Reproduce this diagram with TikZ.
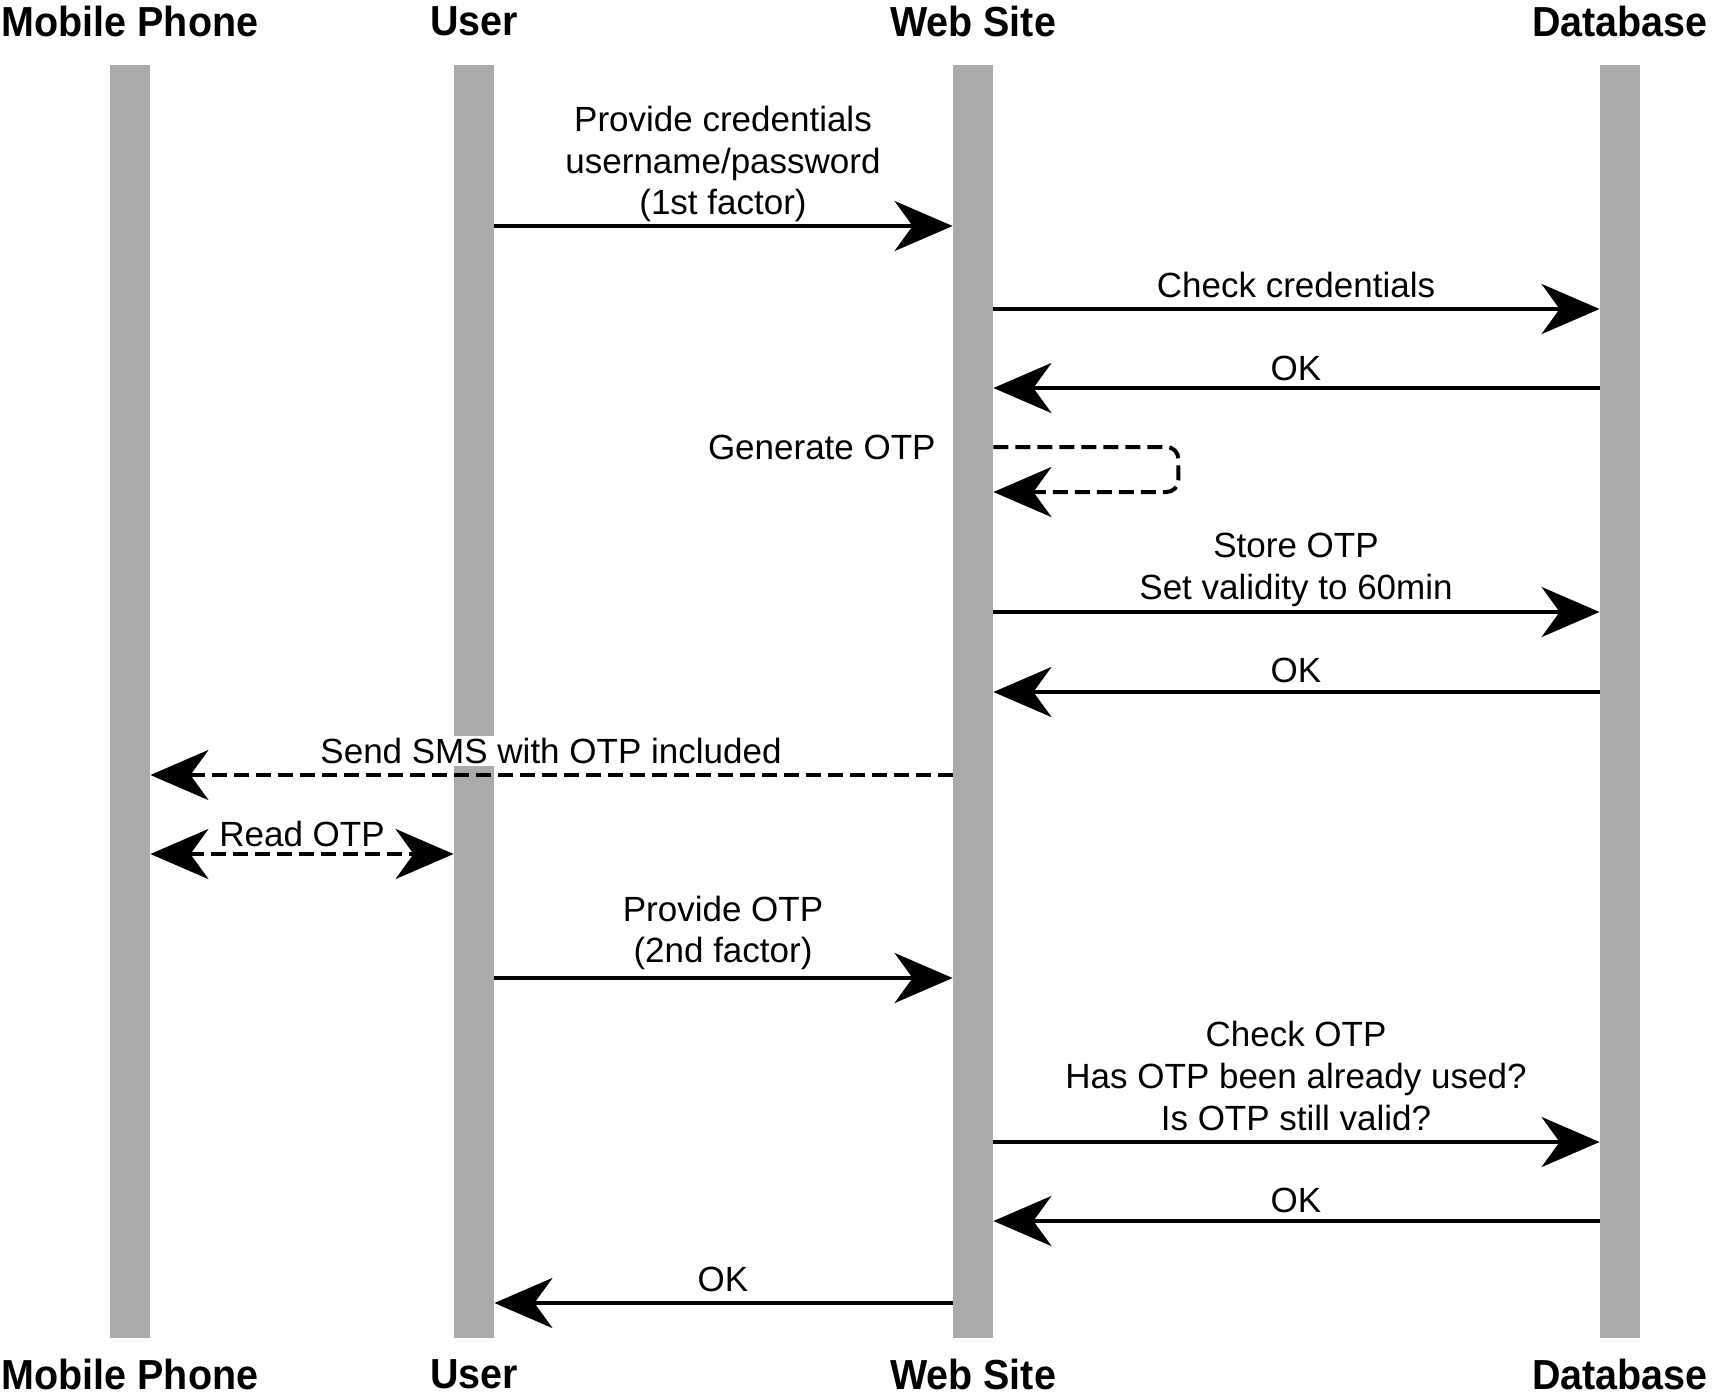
\documentclass[tikz,border=0pt]{standalone}
\usepackage{fontspec}
\setmainfont{Liberation Sans}
\newfontfamily\headfont[FakeStretch=0.94]{Liberation Sans}
\usepackage{xcolor}
\definecolor{lifeGray}{HTML}{AAAAAA}
\usetikzlibrary{arrows.meta, positioning, calc}

\begin{document}
\begin{tikzpicture}[x=0.5pt, y=-0.5pt,
    every node/.style={font=\fontsize{17.5}{20.8}\selectfont},
    head/.style={font=\headfont\fontsize{21}{25}\selectfont\bfseries, inner sep=0pt},
    life/.style={fill=lifeGray, draw=none, inner sep=0pt,
                minimum width=20pt, minimum height=636.5pt},
    msg/.style={line width=2pt, -{Stealth[length=29pt, width=25pt, inset=9pt]}},
    async/.style={msg, dash pattern=on 7.5pt off 3.5pt},
    both/.style={async, {Stealth[length=29pt, width=25pt, inset=9pt]}-{Stealth[length=29pt, width=25pt, inset=9pt]}},
    elabel/.style={fill=white, inner sep=1pt, align=center}
]
\useasboundingbox (0,0) rectangle (1713,1399);
% Lifelines
\node[life] (phone) at (130, 701.5) {};
\node[life] (user)  at (474, 701.5) {};
\node[life] (web)   at (973, 701.5) {};
\node[life] (db)    at (1620, 701.5) {};
% Headers
\node[head] (phoneT) at (130, 21) {Mobile Phone};
\node[head] (userT)  at (474, 21) {User};
\node[head] (webT)   at (973, 21) {Web Site};
\node[head] (dbT)    at (1620, 21) {Database};
\node[head] (phoneB) at (130, 1374) {Mobile Phone};
\node[head] (userB)  at (474, 1374) {User};
\node[head] (webB)   at (973, 1374) {Web Site};
\node[head] (dbB)    at (1620, 1374) {Database};
% Labels
\node[elabel] (l1)  at (723, 164)  {Provide credentials\\username/password\\(1st factor)};
\node[elabel] (l2)  at (1296, 285) {Check credentials};
\node[elabel] (l3)  at (1296, 368) {OK};
\node[elabel, anchor=east] (l4) at (938, 447) {Generate OTP};
\node[elabel] (l5)  at (1296, 570) {Store OTP\\Set validity to 60min};
\node[elabel] (l6)  at (1296, 670) {OK};
\node[elabel] (l7)  at (551, 751)  {Send SMS with OTP included};
\node[elabel] (l8)  at (302, 834)  {Read OTP};
\node[elabel] (l9)  at (723, 933)  {Provide OTP\\(2nd factor)};
\node[elabel] (l10) at (1296, 1076) {Check OTP\\Has OTP been already used?\\Is OTP still valid?};
\node[elabel] (l11) at (1296, 1200) {OK};
\node[elabel] (l12) at (723, 1279) {OK};
% Messages
\draw[msg] (user.east |- 0,226) -- (web.west |- 0,226);
\draw[msg] (web.east |- 0,309) -- (db.west |- 0,309);
\draw[msg] (db.west |- 0,388) -- (web.east |- 0,388);
\draw[async, rounded corners=6pt] (web.east |- 0,447) -- ++(185,0) -- ++(0,45) -- (web.east |- 0,492);
\draw[msg] (web.east |- 0,612) -- (db.west |- 0,612);
\draw[msg] (db.west |- 0,692) -- (web.east |- 0,692);
\draw[async] (web.west |- 0,775) -- (phone.east |- 0,775);
\draw[both] (phone.east |- 0,854) -- (user.west |- 0,854);
\draw[msg] (user.east |- 0,978) -- (web.west |- 0,978);
\draw[msg] (web.east |- 0,1142) -- (db.west |- 0,1142);
\draw[msg] (db.west |- 0,1221) -- (web.east |- 0,1221);
\draw[msg] (web.west |- 0,1303) -- (user.east |- 0,1303);
\end{tikzpicture}
\end{document}
